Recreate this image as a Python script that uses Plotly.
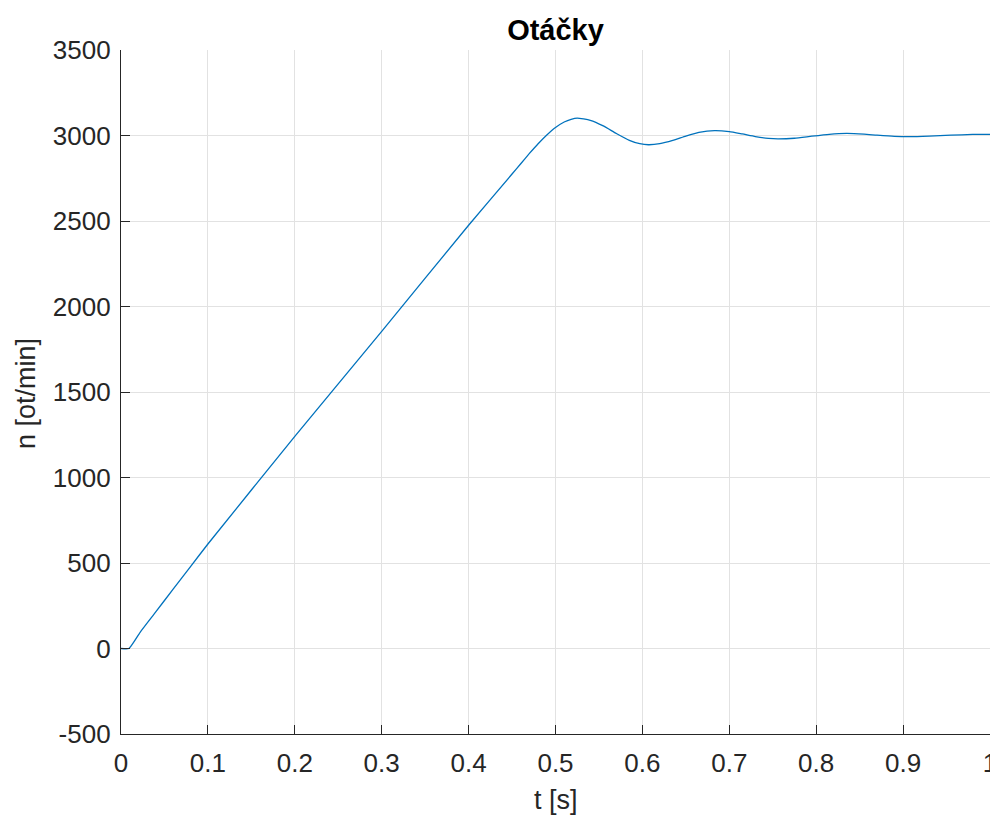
import plotly.graph_objects as go

# Data
t_s = [0.0, 0.009, 0.022, 0.04, 0.06, 0.08, 0.1, 0.2, 0.3, 0.4, 0.45, 0.46, 0.47,
       0.48, 0.49, 0.50, 0.51, 0.518, 0.525, 0.54, 0.555, 0.57, 0.585, 0.597, 0.607,
       0.62, 0.635, 0.65, 0.665, 0.683, 0.70, 0.715, 0.73, 0.745, 0.756,
       0.775, 0.795, 0.815, 0.835, 0.855, 0.87, 0.89, 0.906, 0.93, 0.955,
       0.98, 1.0]
n_rpm = [0, 0, 95, 214, 347, 479, 611, 1240, 1855, 2475, 2775, 2835, 2895,
         2952, 3003, 3047, 3079, 3095, 3102, 3089, 3056, 3012, 2972, 2952, 2946,
         2952, 2971, 2996, 3018, 3029, 3023, 3009, 2994, 2983, 2980,
         2984, 2996, 3007, 3012, 3008, 3002, 2995, 2993, 2996, 3002,
         3006, 3006]

x_ticks = [0, 0.1, 0.2, 0.3, 0.4, 0.5, 0.6, 0.7, 0.8, 0.9, 1.0]
x_ticktext = ["0", "0.1", "0.2", "0.3", "0.4", "0.5", "0.6", "0.7", "0.8", "0.9", "1"]
y_ticks = [-500, 0, 500, 1000, 1500, 2000, 2500, 3000, 3500]
y_ticktext = ["-500", "0", "500", "1000", "1500", "2000", "2500", "3000", "3500"]

title_text = "Otáčky"
x_label = "t [s]"
y_label = "n [ot/min]"

FONT = "Liberation Sans, Arial, Helvetica, sans-serif"
TXT = "#262626"

# page body has an 8px margin, so the figure is made 8px smaller
OFF = 8
W, H = 998 - OFF, 820 - OFF
L, R, T, B = 121 - OFF, 8, 50 - OFF, 86
PW, PH = W - L - R, H - T - B

fig = go.Figure()
fig.add_trace(go.Scatter(
    x=t_s, y=n_rpm, mode="lines",
    line=dict(color="#0072BD", width=1.3, shape="spline", smoothing=0.5),
    hoverinfo="skip", showlegend=False,
))

axis_common = dict(
    showline=True, linecolor=TXT, linewidth=1.3, mirror=False,
    ticks="inside", ticklen=9, tickwidth=1.3, tickcolor=TXT,
    showgrid=True, gridcolor="#e2e2e2", gridwidth=1,
    zeroline=False, automargin=False,
    tickfont=dict(family=FONT, size=26, color=TXT),
)

fig.update_layout(
    width=W, height=H,
    margin=dict(l=L, r=R, t=T, b=B),
    paper_bgcolor="white", plot_bgcolor="white",
    title=dict(text="<b>" + title_text + "</b>", x=0.5, xanchor="center",
               y=1 - 22 / H, yanchor="middle", xref="paper", yref="container",
               font=dict(family=FONT, size=29, color="black")),
    xaxis=dict(range=[0, 1], tickmode="array", tickvals=x_ticks, ticktext=x_ticktext,
               ticklabelstandoff=6, **axis_common),
    yaxis=dict(range=[-500, 3500], tickmode="array", tickvals=y_ticks, ticktext=y_ticktext,
               ticklabelstandoff=4, **axis_common),
    annotations=[
        dict(text=x_label, xref="paper", yref="paper", x=0.5, y=-(800 - 734) / PH,
             xanchor="center", yanchor="middle", showarrow=False,
             font=dict(family=FONT, size=27, color=TXT)),
        dict(text=y_label, xref="paper", yref="paper", x=-(121 - 26) / PW,
             y=(734 - 394) / PH, xanchor="center", yanchor="middle",
             textangle=-90, showarrow=False,
             font=dict(family=FONT, size=27, color=TXT)),
    ],
)

fig.write_html("out.html")
